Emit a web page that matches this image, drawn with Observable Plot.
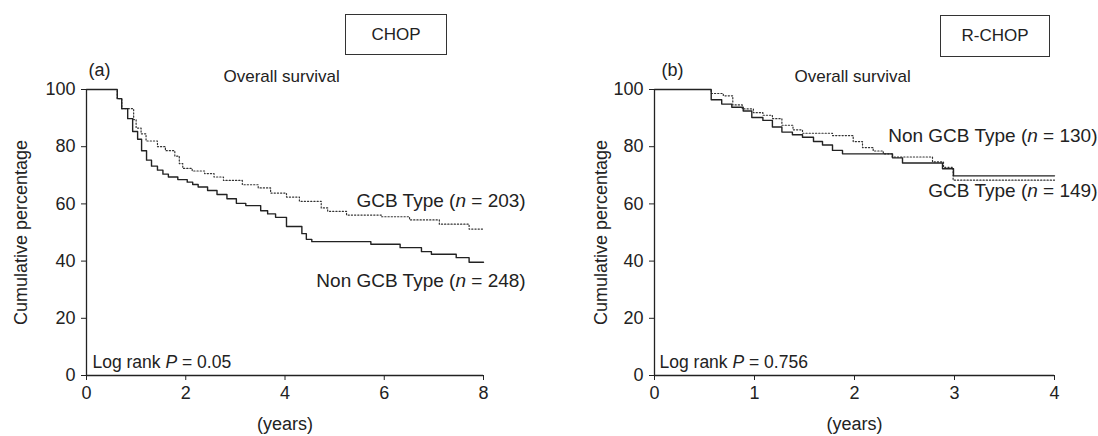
<!DOCTYPE html>
<html>
<head>
<meta charset="utf-8">
<script src="https://cdn.jsdelivr.net/npm/d3@7"></script>
<script src="https://cdn.jsdelivr.net/npm/@observablehq/plot@0.6"></script>
<style>
  html, body { margin: 0; padding: 0; background: #fff; }
  #wrap { display: flex; width: 1098px; height: 436px; }
  .panel { position: relative; width: 549px; height: 436px; }
  .box { position: absolute; border: 1px solid #333; background: #fff; box-sizing: border-box;
         font-family: "Liberation Sans", Arial, sans-serif; font-size: 17px; color: #222;
         display: flex; align-items: center; justify-content: center; }
</style>
</head>
<body>
<div id="wrap">
  <div class="panel" id="pa"></div>
  <div class="panel" id="pb"></div>
</div>
<script>
// ---------- data ----------
const yTicks = [0, 20, 40, 60, 80, 100];
const xTicksCHOP = [0, 2, 4, 6, 8];
const xTicksRCHOP = [0, 1, 2, 3, 4];

// (a) CHOP — Non GCB (solid)
const chopNonGcbTime = [0,0.62,0.71,0.83,0.93,1.03,1.11,1.21,1.31,1.43,1.54,1.65,1.84,2.03,2.14,2.25,2.44,2.63,2.83,3.02,3.21,3.51,3.65,3.81,4.03,4.34,4.43,4.54,5.73,6.32,6.75,6.95,7.45,7.71,8.0];
const chopNonGcbSurv = [100,96.8,93.3,89.8,85.3,82.6,78.6,75.3,73.2,71.8,70.4,69.4,68.5,67.6,66.8,65.9,64.7,63.3,61.8,60.2,59.4,57.6,56.5,55.3,52.1,49.6,47.6,46.8,45.9,44.7,43.3,42.4,41.2,39.6,39.6];
// (a) CHOP — GCB (dotted)
const chopGcbTime = [0,0.62,0.71,0.95,1.0,1.1,1.2,1.43,1.59,1.78,1.87,1.94,2.13,2.38,2.57,2.76,3.14,3.46,3.71,4.03,4.29,4.73,4.86,5.24,5.94,6.51,7.11,7.71,8.0];
const chopGcbSurv = [100,96.8,93.3,89.5,86.5,84.5,82,80,78.6,76.7,74.1,72.4,71.5,70.6,69.4,68.2,66.7,65.6,63.8,62.4,60.9,58.6,57.4,56.1,55.5,54.4,52.9,51.2,51.2];

// (b) R-CHOP — Non GCB (solid)
const rchopNonGcbTime = [0,0.567,0.672,0.773,0.887,0.973,1.084,1.179,1.274,1.379,1.48,1.59,1.68,1.78,1.88,2.38,2.48,2.88,2.99,4.0];
const rchopNonGcbSurv = [100,96.4,94.9,93.8,92.5,90.2,89.2,86.9,85.1,84.2,83.3,81.8,80.6,78.7,77.5,76.1,74.3,72.3,69.8,69.8];
// (b) R-CHOP — GCB (dotted)
const rchopGcbTime = [0,0.567,0.688,0.783,0.878,0.989,1.084,1.179,1.274,1.385,1.48,1.78,1.987,2.08,2.187,2.288,2.377,2.78,2.89,2.986,4.0];
const rchopGcbSurv = [100,98.6,97.8,94.6,93.2,91.9,91.0,89.8,87.5,85.9,84.7,83.9,81.8,79.7,78.5,77.5,76.4,74.7,72.8,68.3,68.3];

const labelsCHOP = {panel: "(a)", title: "Overall survival", gcb: "GCB Type (n = 203)", non: "Non GCB Type (n = 248)", p: "Log rank P = 0.05", box: "CHOP"};
const labelsRCHOP = {panel: "(b)", title: "Overall survival", gcb: "GCB Type (n = 149)", non: "Non GCB Type (n = 130)", p: "Log rank P = 0.756", box: "R-CHOP"};

// ---------- helpers ----------
const zip = (t, s) => t.map((d, i) => ({t: d, s: s[i]}));
const ink = "#222";

function italicize(svg) {
  d3.select(svg).selectAll("text").each(function () {
    if (this.querySelector("tspan")) return;
    const t = this.textContent;
    const m = t.match(/^(.*\()(n)( = .*)$/) || t.match(/^(Log rank )(P)( = .*)$/);
    if (!m) return;
    this.textContent = "";
    const sel = d3.select(this);
    sel.append("tspan").text(m[1]);
    sel.append("tspan").attr("font-style", "italic").text(m[2]);
    sel.append("tspan").text(m[3]);
  });
}

function panel(el, cfg) {
  const chart = Plot.plot({
    width: 549, height: 436,
    marginLeft: cfg.ml, marginRight: cfg.mr, marginTop: 89, marginBottom: 61,
    style: {fontFamily: "'Liberation Sans', Arial, sans-serif", fontSize: "18px", color: ink, background: "transparent", overflow: "visible"},
    x: {domain: cfg.xDomain, ticks: cfg.xTicks, tickSize: 5, tickPadding: 6, tickFormat: d => String(d),
        label: "(years)", labelAnchor: "center", labelOffset: 54, labelArrow: "none"},
    y: {domain: [0, 100], ticks: yTicks, tickSize: 5, tickPadding: 6, tickFormat: d => String(d),
        label: "Cumulative percentage", labelAnchor: "center", labelOffset: cfg.ylo, labelArrow: "none"},
    marks: [
      Plot.ruleX([0], {stroke: ink, strokeWidth: 1.3}),
      Plot.ruleY([0], {stroke: ink, strokeWidth: 1.3}),
      Plot.line(cfg.dotted, {x: "t", y: "s", curve: "step-after", stroke: "#333", strokeWidth: 1.2, strokeDasharray: "1.2,2"}),
      Plot.line(cfg.solid, {x: "t", y: "s", curve: "step-after", stroke: ink, strokeWidth: 1.4}),
      Plot.text([cfg.labels.panel], {x: cfg.pos.panel[0], y: cfg.pos.panel[1], text: d => d, textAnchor: "start", fontSize: 18, fill: ink}),
      Plot.text([cfg.labels.title], {x: cfg.pos.title[0], y: cfg.pos.title[1], text: d => d, textAnchor: "start", fontSize: 17, fill: ink}),
      Plot.text([cfg.labels.gcb], {x: cfg.pos.gcb[0], y: cfg.pos.gcb[1], text: d => d, textAnchor: "end", fontSize: 19, fill: ink}),
      Plot.text([cfg.labels.non], {x: cfg.pos.non[0], y: cfg.pos.non[1], text: d => d, textAnchor: "end", fontSize: 19, fill: ink}),
      Plot.text([cfg.labels.p], {x: cfg.pos.p[0], y: cfg.pos.p[1], text: d => d, textAnchor: "start", fontSize: 17.5, fill: ink})
    ]
  });
  italicize(chart);
  el.appendChild(chart);
  const box = document.createElement("div");
  box.className = "box";
  Object.assign(box.style, cfg.box);
  box.textContent = cfg.labels.box;
  el.appendChild(box);
}

panel(document.getElementById("pa"), {
  ml: 86, mr: 66, ylo: 72, xDomain: [0, 8], xTicks: xTicksCHOP,
  solid: zip(chopNonGcbTime, chopNonGcbSurv),
  dotted: zip(chopGcbTime, chopGcbSurv),
  labels: labelsCHOP,
  pos: {panel: [0.04, 106.6], title: [2.76, 104.5], gcb: [8.85, 61.2], non: [8.85, 32.9], p: [0.12, 4.5]},
  box: {left: "345px", top: "14px", width: "102px", height: "41px"}
});

panel(document.getElementById("pb"), {
  ml: 105, mr: 44, ylo: 60, xDomain: [0, 4], xTicks: xTicksRCHOP,
  solid: zip(rchopNonGcbTime, rchopNonGcbSurv),
  dotted: zip(rchopGcbTime, rchopGcbSurv),
  labels: labelsRCHOP,
  pos: {panel: [0.07, 106.6], title: [1.40, 104.5], gcb: [4.43, 64.7], non: [4.43, 83.9], p: [0.05, 4.5]},
  box: {left: "391px", top: "15px", width: "110px", height: "42px"}
});
</script>
</body>
</html>
